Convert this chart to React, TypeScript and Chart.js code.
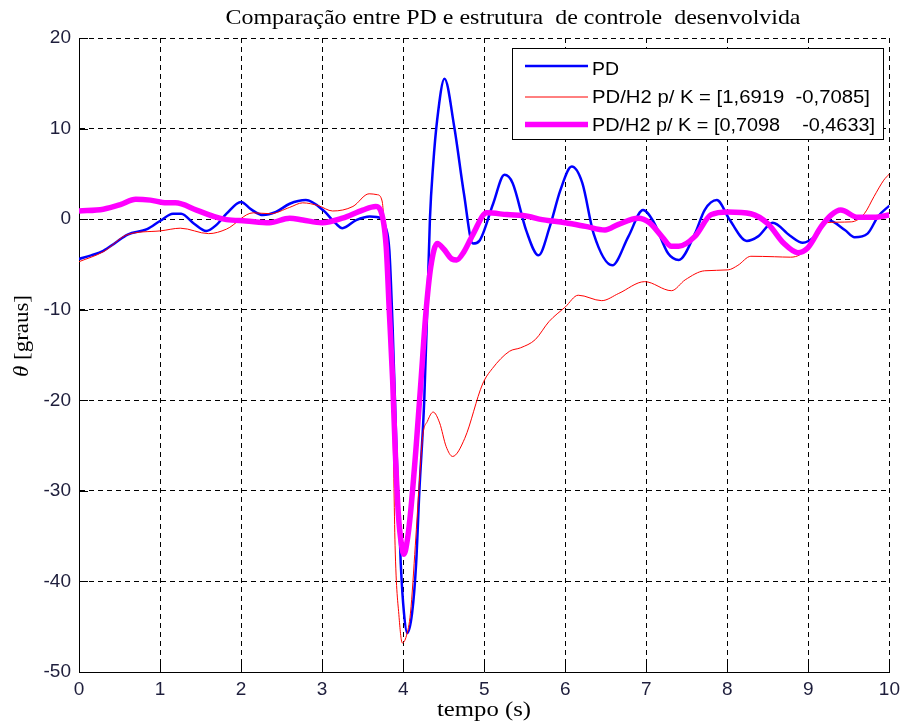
import React, { useEffect, useRef } from "react";
import { Chart, registerables } from "chart.js";

Chart.register(...registerables);

// ---- Data ----
const titleText = "Comparação entre PD e estrutura  de controle  desenvolvida";
const xLabelText = "tempo (s)";
const legendLabels = [
  "PD",
  "PD/H2 p/ K = [1,6919  -0,7085]",
  "PD/H2 p/ K = [0,7098    -0,4633]",
];

const tPD = [0, 0.15, 0.3, 0.45, 0.6, 0.84, 1.0, 1.16, 1.26, 1.42, 1.57, 1.7, 1.82, 2.0, 2.12, 2.27, 2.43, 2.6, 2.8, 3.01, 3.17, 3.25, 3.42, 3.59, 3.73, 3.78, 3.83, 3.87, 3.92, 3.97, 4.01, 4.05, 4.11, 4.16, 4.2, 4.26, 4.3, 4.33, 4.37, 4.42, 4.51, 4.63, 4.75, 4.86, 4.94, 5.11, 5.25, 5.35, 5.52, 5.67, 5.81, 5.94, 6.08, 6.21, 6.35, 6.58, 6.78, 6.96, 7.09, 7.27, 7.4, 7.6, 7.72, 7.87, 8.03, 8.24, 8.38, 8.56, 8.77, 8.93, 9.08, 9.24, 9.45, 9.57, 9.73, 9.86, 10];
const yPD = [-4.4, -4.0, -3.5, -2.6, -1.7, -1.1, -0.2, 0.6, 0.6, -0.5, -1.3, -0.6, 0.6, 1.9, 1.1, 0.45, 0.8, 1.7, 2.1, 1.0, -0.5, -1.0, -0.1, 0.3, 0.1, -0.8, -3.5, -12, -26, -38, -43.5, -45.7, -43.5, -38, -30, -20, -9, 0, 6, 11, 15.5, 10.2, 2.8, -2.7, -2.4, 1.7, 4.9, 4.0, -1.3, -4.0, -0.8, 3.2, 5.8, 4.0, -1.6, -5.1, -1.9, 1.0, -0.3, -3.8, -4.5, -1.6, 1.0, 2.1, -0.1, -2.4, -1.9, -0.4, -1.8, -2.6, -1.9, -0.1, -1.2, -2.0, -1.6, 0.3, 1.5];

const tH2a = [0, 0.3, 0.6, 1.0, 1.25, 1.6, 1.82, 2.15, 2.36, 2.6, 2.76, 2.95, 3.13, 3.38, 3.58, 3.68, 3.74, 3.78, 3.83, 3.87, 3.9, 3.95, 3.99, 4.04, 4.09, 4.15, 4.2, 4.24, 4.3, 4.37, 4.45, 4.53, 4.61, 4.76, 4.98, 5.1, 5.31, 5.45, 5.63, 5.8, 6.0, 6.16, 6.45, 6.66, 6.98, 7.31, 7.48, 7.72, 8.01, 8.13, 8.29, 8.58, 8.78, 8.9, 9.0, 9.1, 9.2, 9.53, 9.69, 9.81, 9.93, 10];
const yH2a = [-4.7, -3.6, -1.7, -1.3, -1.0, -1.6, -1.1, 0.7, 0.6, 1.3, 1.8, 1.5, 0.9, 1.4, 2.8, 2.7, 2.0, -3, -11, -21, -36, -44, -46.8, -46, -43.5, -36, -29, -24, -22.3, -21.3, -22.5, -25.1, -26.2, -24.2, -18.2, -16.5, -14.6, -14.2, -13.3, -11.3, -9.7, -8.4, -9.0, -8.2, -6.9, -7.9, -6.7, -5.7, -5.6, -5.1, -4.1, -4.15, -4.2, -3.9, -3.0, -1.5, -0.4, -0.3, 0.6, 2.5, 4.3, 5.0];

const tH2b = [0, 0.3, 0.51, 0.7, 0.88, 1.08, 1.19, 1.45, 1.66, 1.82, 2.06, 2.35, 2.6, 2.76, 3.0, 3.25, 3.5, 3.66, 3.72, 3.79, 3.83, 3.87, 3.9, 3.94, 3.98, 4.01, 4.05, 4.09, 4.16, 4.22, 4.28, 4.34, 4.42, 4.5, 4.6, 4.66, 4.75, 4.86, 5.03, 5.28, 5.55, 5.68, 6.0, 6.25, 6.49, 6.65, 6.9, 7.04, 7.2, 7.31, 7.4, 7.6, 7.8, 8.01, 8.29, 8.5, 8.7, 8.87, 8.99, 9.16, 9.28, 9.4, 9.61, 9.81, 10];
const yH2b = [0.9, 1.1, 1.6, 2.2, 2.1, 1.8, 1.8, 1.0, 0.3, -0.05, -0.2, -0.4, 0.1, -0.1, -0.4, 0.1, 1.0, 1.4, 1.0, -3.0, -10.4, -17.8, -25.1, -32.5, -36, -37, -35.5, -32.5, -25.1, -17.8, -10.4, -5.3, -2.7, -3.3, -4.4, -4.5, -3.6, -1.7, 0.7, 0.5, 0.3, 0, -0.4, -0.8, -1.2, -0.6, 0.1, -0.4, -2.0, -3.0, -3.0, -1.9, 0.5, 0.8, 0.6, -0.5, -2.7, -3.7, -3.2, -0.8, 0.45, 1.0, 0.2, 0.2, 0.45];

const xMin = 0, xMax = 10, xStep = 1;
const yMin = -50, yMax = 20, yStep = 10;

const seriesColors = ["#0000ff", "#ff0000", "#ff00ff"];
const seriesWidths = [2.5, 1, 5.5];

const toPts = (t: number[], y: number[]) => t.map((v, i) => ({ x: v, y: y[i] }));

function fitText(ctx: CanvasRenderingContext2D, text: string, x: number, y: number, font: string, width: number, align: CanvasTextAlign) {
  ctx.save();
  ctx.font = font;
  const w = ctx.measureText(text).width;
  const s = width / w;
  ctx.translate(x, y);
  ctx.scale(s, 1);
  ctx.textAlign = align;
  ctx.textBaseline = "middle";
  ctx.fillText(text, 0, 0);
  ctx.restore();
}

const decorPlugin = {
  id: "decor",
  beforeDatasetsDraw(chart: any) {
    const ctx: CanvasRenderingContext2D = chart.ctx;
    const { left, bottom } = chart.chartArea;
    const xs = chart.scales.x;
    const ys = chart.scales.y;
    ctx.save();
    ctx.strokeStyle = "#000";
    ctx.lineWidth = 1;
    ctx.setLineDash([]);
    ctx.beginPath();
    for (let v = xMin; v <= xMax; v += xStep) {
      const px = Math.round(xs.getPixelForValue(v)) + 0.5;
      ctx.moveTo(px, bottom);
      ctx.lineTo(px, bottom - 9);
    }
    for (let v = yMin; v <= yMax; v += yStep) {
      const py = Math.round(ys.getPixelForValue(v)) + 0.5;
      ctx.moveTo(left, py);
      ctx.lineTo(left + 9, py);
    }
    ctx.stroke();
    ctx.restore();
  },
  afterDraw(chart: any) {
    const ctx: CanvasRenderingContext2D = chart.ctx;
    ctx.save();
    ctx.fillStyle = "#000";
    // title
    fitText(ctx, titleText, 513, 18, "21px 'Liberation Serif', 'Times New Roman', serif", 575, "center");
    // x label
    fitText(ctx, xLabelText, 484, 711, "20px 'Liberation Serif', 'Times New Roman', serif", 94, "center");
    // y label (rotated, θ italic)
    ctx.save();
    ctx.translate(23, 336);
    ctx.rotate(-Math.PI / 2);
    const f1 = "italic 20px 'Liberation Serif', serif";
    const f2 = "20px 'Liberation Serif', serif";
    ctx.font = f1;
    const w1 = ctx.measureText("θ").width;
    ctx.font = f2;
    const w2 = ctx.measureText(" [graus]").width;
    const s = 82 / (w1 + w2);
    ctx.scale(s, 1);
    ctx.textBaseline = "middle";
    ctx.textAlign = "left";
    const x0 = -(w1 + w2) / 2;
    ctx.font = f1;
    ctx.fillText("θ", x0, 0);
    ctx.font = f2;
    ctx.fillText(" [graus]", x0 + w1, 0);
    ctx.restore();

    // legend box
    ctx.fillStyle = "#fff";
    ctx.fillRect(512.5, 48.5, 371, 91);
    ctx.strokeStyle = "#000";
    ctx.lineWidth = 1;
    ctx.setLineDash([]);
    ctx.strokeRect(512.5, 48.5, 371, 91);
    const lineYs = [66, 97, 124.5];
    const textYs = [70, 98, 126.5];
    const textWidths = [27, 278, 283];
    for (let i = 0; i < 3; i++) {
      ctx.strokeStyle = seriesColors[i];
      ctx.lineWidth = seriesWidths[i];
      ctx.beginPath();
      ctx.moveTo(525, lineYs[i]);
      ctx.lineTo(588, lineYs[i]);
      ctx.stroke();
      ctx.fillStyle = "#000";
      fitText(ctx, legendLabels[i], 592, textYs[i], "18px 'Liberation Sans', Arial, sans-serif", textWidths[i], "left");
    }
    ctx.restore();
  },
};

export default function App() {
  const ref = useRef<HTMLCanvasElement>(null);
  useEffect(() => {
    if (!ref.current) return;
    const tickFont = { family: "'Liberation Sans', Arial, sans-serif", size: 19 };
    const tickColor = "#1e1e3c";
    const chart = new Chart(ref.current, {
      type: "line",
      data: {
        datasets: [
          { label: legendLabels[0], data: toPts(tPD, yPD), borderColor: seriesColors[0], borderWidth: seriesWidths[0], pointRadius: 0, cubicInterpolationMode: "monotone", fill: false, order: 3 },
          { label: legendLabels[1], data: toPts(tH2a, yH2a), borderColor: seriesColors[1], borderWidth: seriesWidths[1], pointRadius: 0, cubicInterpolationMode: "monotone", fill: false, order: 2 },
          { label: legendLabels[2], data: toPts(tH2b, yH2b), borderColor: seriesColors[2], borderWidth: seriesWidths[2], pointRadius: 0, cubicInterpolationMode: "monotone", fill: false, order: 1 },
        ],
      } as any,
      options: {
        responsive: false,
        animation: false,
        devicePixelRatio: 1,
        layout: { padding: { left: 0, top: 38, right: 14, bottom: 0 } },
        plugins: { legend: { display: false }, title: { display: false }, tooltip: { enabled: false } },
        scales: {
          x: {
            type: "linear",
            min: xMin,
            max: xMax,
            ticks: { stepSize: xStep, font: tickFont, color: tickColor, padding: 6, maxRotation: 0, autoSkip: false },
            grid: { color: "#000", lineWidth: 1, drawTicks: false },
            border: { display: true, color: "#000", width: 1, dash: [5, 4] },
            afterFit: (s: any) => { s.height = 50; },
          },
          y: {
            type: "linear",
            min: yMin,
            max: yMax,
            ticks: { stepSize: yStep, font: tickFont, color: tickColor, padding: 8, autoSkip: false },
            grid: { color: "#000", lineWidth: 1, drawTicks: false },
            border: { display: true, color: "#000", width: 1, dash: [5, 4] },
            afterFit: (s: any) => { s.width = 79; },
          },
        },
      } as any,
      plugins: [decorPlugin],
    });
    return () => chart.destroy();
  }, []);
  return (
    <div style={{ position: "absolute", left: 0, top: 0, width: 906, height: 722, background: "#fff" }}>
      <canvas ref={ref} width={906} height={722} style={{ display: "block" }} />
    </div>
  );
}
